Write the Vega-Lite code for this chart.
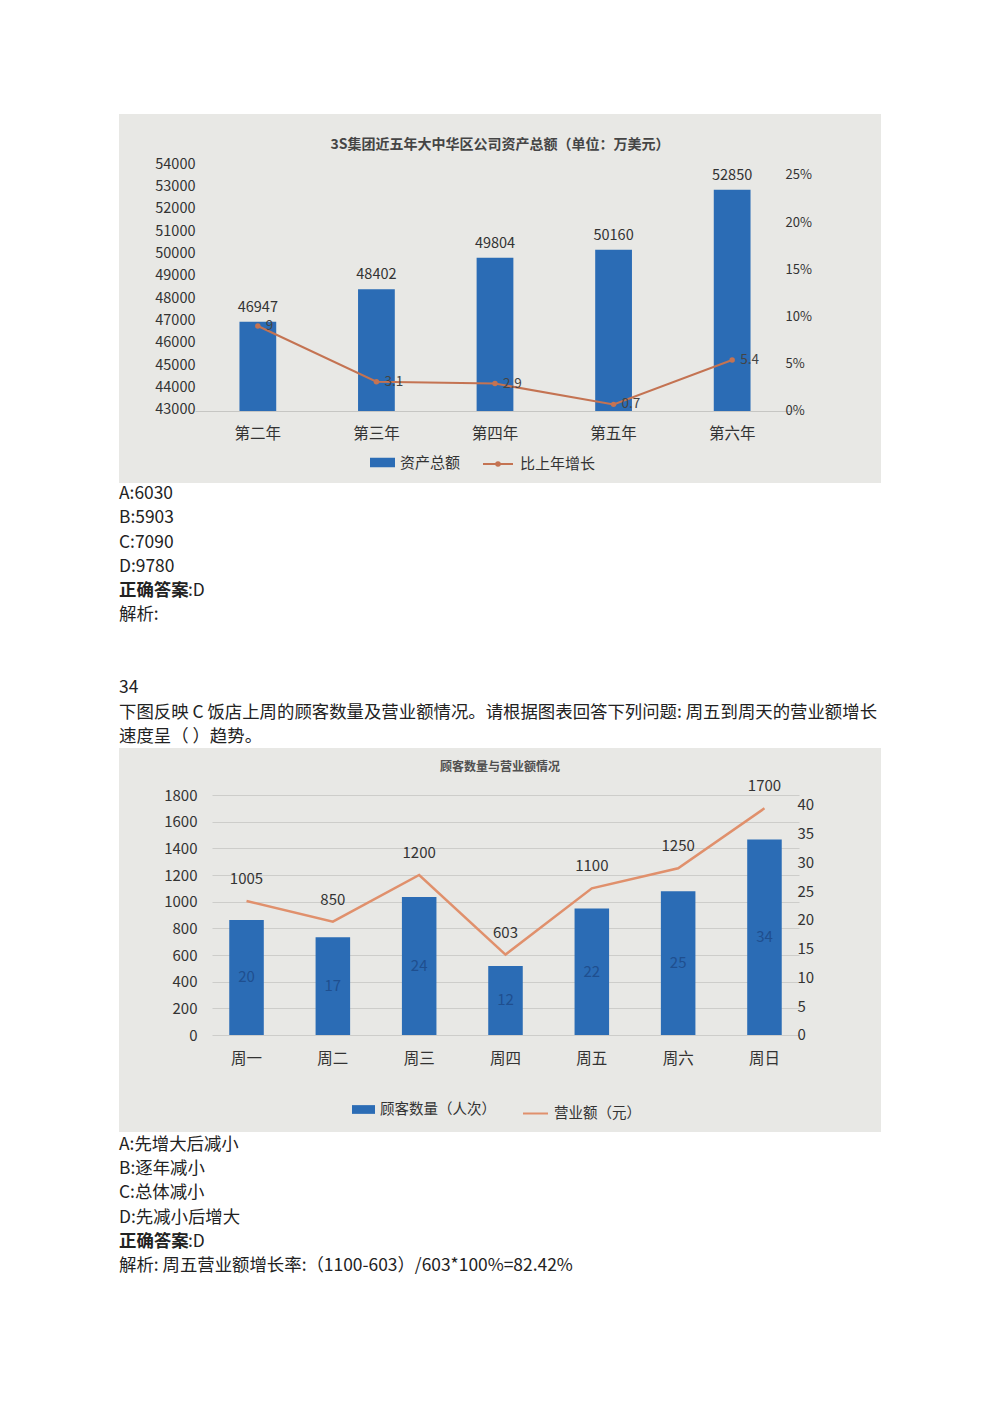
{
  "$schema": "https://vega.github.io/schema/vega-lite/v6.json",
  "background": "#ffffff",
  "padding": {"left": 119, "top": 114, "right": 0, "bottom": 0},
  "spacing": 0,
  "bounds": "flush",
  "config": {
    "font": "Noto Sans CJK SC",
    "view": {"stroke": null},
    "axis": {"labelFont": "Noto Sans CJK SC", "labelColor": "#333333", "ticks": false, "domain": false, "grid": false, "labelOverlap": false},
    "legend": {"labelFont": "Noto Sans CJK SC", "labelColor": "#333333", "padding": 0},
    "title": {"font": "Noto Sans CJK SC", "anchor": "middle", "frame": "group"}
  },
  "resolve": {
    "scale": {"x": "independent", "y": "independent", "fill": "independent", "stroke": "independent"},
    "legend": {"fill": "independent", "stroke": "independent"}
  },
  "vconcat": [
    {
      "width": 762,
      "height": 369,
      "view": {"fill": "#e8e8e5", "stroke": null},
      "title": {"text": "3S集团近五年大中华区公司资产总额（单位：万美元）", "offset": -38, "fontSize": 14, "fontWeight": 600, "color": "#454545"},
      "data": {"values": [
        {"年份": "第二年", "资产总额": 46947, "比上年增长": 9},
        {"年份": "第三年", "资产总额": 48402, "比上年增长": 3.1},
        {"年份": "第四年", "资产总额": 49804, "比上年增长": 2.9},
        {"年份": "第五年", "资产总额": 50160, "比上年增长": 0.7},
        {"年份": "第六年", "资产总额": 52850, "比上年增长": 5.4}
      ]},
      "encoding": {
        "x": {
          "field": "年份", "type": "nominal", "sort": null,
          "scale": {"range": [76, 676], "paddingInner": 0.69, "paddingOuter": 0.375},
          "axis": {"title": null, "orient": "bottom", "offset": -72, "domain": true, "domainColor": "#c6c6c3", "labelPadding": 15, "labelFontSize": 15.5, "labelAngle": 0}
        }
      },
      "layer": [
        {
          "mark": {"type": "bar"},
          "encoding": {
            "y": {
              "field": "资产总额", "type": "quantitative",
              "scale": {"domain": [39735, 56236], "nice": false, "zero": false},
              "axis": {"title": null, "orient": "left", "offset": -78, "labelPadding": 2, "labelFontSize": 14.5, "format": "d", "labelOverlap": false, "labelBound": false,
                "values": [43000, 44000, 45000, 46000, 47000, 48000, 49000, 50000, 51000, 52000, 53000, 54000]}
            },
            "y2": {"datum": 42950},
            "fill": {
              "datum": "资产总额", "type": "nominal",
              "scale": {"range": ["#2b6cb5"]},
              "legend": {"title": null, "orient": "none", "legendX": 251, "legendY": 336, "symbolType": "M-1,-0.38H1V0.38H-1Z", "symbolSize": 625, "symbolStrokeWidth": 0, "labelFontSize": 15, "labelOffset": 5}
            }
          }
        },
        {
          "mark": {"type": "text", "baseline": "bottom", "dy": -7, "fontSize": 14.5, "color": "#333333"},
          "encoding": {
            "y": {"field": "资产总额", "type": "quantitative", "scale": {"domain": [39735, 56236], "nice": false, "zero": false}, "axis": null},
            "text": {"field": "资产总额", "type": "quantitative", "format": "d"}
          }
        },
        {
          "mark": {"type": "line", "strokeWidth": 2},
          "encoding": {
            "y": {
              "field": "比上年增长", "type": "quantitative",
              "scale": {"domain": [-7.63, 31.46], "nice": false, "zero": false},
              "axis": {"title": null, "orient": "right", "offset": -96, "labelPadding": 0, "labelFontSize": 13, "labelOverlap": false, "values": [0, 5, 10, 15, 20, 25], "labelExpr": "datum.value + '%'"}
            },
            "stroke": {
              "datum": "比上年增长", "type": "nominal",
              "scale": {"range": ["#c47352"]},
              "legend": {"title": null, "orient": "none", "legendX": 363, "legendY": 334, "symbolType": "M-1,0H1M0.12,0A0.12,0.12 0 1 1 -0.12,0A0.12,0.12 0 1 1 0.12,0", "symbolSize": 900, "symbolStrokeWidth": 2, "labelFontSize": 15, "labelOffset": 6}
            }
          }
        },
        {
          "mark": {"type": "point", "filled": true, "size": 30, "color": "#c47352", "opacity": 1},
          "encoding": {"y": {"field": "比上年增长", "type": "quantitative", "scale": {"domain": [-7.63, 31.46], "nice": false, "zero": false}, "axis": null}}
        },
        {
          "mark": {"type": "text", "align": "left", "baseline": "middle", "dx": 8, "fontSize": 13.5, "color": "#444444"},
          "encoding": {
            "y": {"field": "比上年增长", "type": "quantitative", "scale": {"domain": [-7.63, 31.46], "nice": false, "zero": false}, "axis": null},
            "text": {"field": "比上年增长", "type": "quantitative", "format": "~g"}
          }
        }
      ],
      "resolve": {"scale": {"y": "independent"}}
    },
    {
      "width": 762,
      "height": 265,
      "data": {"values": [
        {"行": 0, "文本": "A:6030"},
        {"行": 1, "文本": "B:5903"},
        {"行": 2, "文本": "C:7090"},
        {"行": 3, "文本": "D:9780"},
        {"行": 4, "标签": "正确答案", "文本": ":D"},
        {"行": 5, "文本": "解析:"},
        {"行": 8, "文本": "34"},
        {"行": 9, "文本": "下图反映 C 饭店上周的顾客数量及营业额情况。请根据图表回答下列问题: 周五到周天的营业额增长"},
        {"行": 10, "文本": "速度呈（ ）趋势。"}
      ]},
      "encoding": {
        "x": {"datum": 0, "type": "quantitative", "scale": {"domain": [0, 1], "nice": false, "zero": false}, "axis": null},
        "y": {"field": "行", "type": "quantitative", "scale": {"domain": [-0.4527, 10.453], "reverse": true, "nice": false, "zero": false}, "axis": null}
      },
      "layer": [
        {
          "transform": [{"filter": "datum['标签'] == null"}],
          "mark": {"type": "text", "align": "left", "baseline": "middle", "fontSize": 17.4, "color": "#222222"},
          "encoding": {"text": {"field": "文本"}}
        },
        {
          "transform": [{"filter": "datum['标签'] != null"}],
          "mark": {"type": "text", "align": "left", "baseline": "middle", "fontSize": 17.4, "fontWeight": "bold", "color": "#222222"},
          "encoding": {"text": {"field": "标签"}}
        },
        {
          "transform": [{"filter": "datum['标签'] != null"}],
          "mark": {"type": "text", "align": "left", "baseline": "middle", "dx": 69, "fontSize": 17.4, "color": "#222222"},
          "encoding": {"text": {"field": "文本"}}
        }
      ]
    },
    {
      "width": 762,
      "height": 384,
      "view": {"fill": "#e8e8e5", "stroke": null},
      "title": {"text": "顾客数量与营业额情况", "offset": -26, "fontSize": 12, "fontWeight": 600, "color": "#505050"},
      "data": {"values": [
        {"星期": "周一", "顾客数量": 20, "营业额": 1005},
        {"星期": "周二", "顾客数量": 17, "营业额": 850},
        {"星期": "周三", "顾客数量": 24, "营业额": 1200},
        {"星期": "周四", "顾客数量": 12, "营业额": 603},
        {"星期": "周五", "顾客数量": 22, "营业额": 1100},
        {"星期": "周六", "顾客数量": 25, "营业额": 1250},
        {"星期": "周日", "顾客数量": 34, "营业额": 1700}
      ]},
      "encoding": {
        "x": {
          "field": "星期", "type": "nominal", "sort": null,
          "scale": {"range": [93, 680], "paddingInner": 0.6, "paddingOuter": 0.2},
          "axis": {"title": null, "orient": "bottom", "offset": -84, "labelPadding": 3, "labelFontSize": 15.5, "labelAngle": 0}
        }
      },
      "layer": [
        {
          "mark": {"type": "bar"},
          "encoding": {
            "y": {
              "field": "顾客数量", "type": "quantitative",
              "scale": {"domain": [-16.87, 49.91], "nice": false, "zero": false},
              "axis": {"title": null, "orient": "right", "offset": -84, "labelPadding": 0, "labelFontSize": 15, "labelOverlap": false, "values": [0, 5, 10, 15, 20, 25, 30, 35, 40]}
            },
            "y2": {"datum": 0},
            "fill": {
              "datum": "顾客数量（人次）", "type": "nominal",
              "scale": {"range": ["#2b6cb5"]},
              "legend": {"title": null, "orient": "none", "legendX": 233, "legendY": 350, "symbolType": "M-1,-0.38H1V0.38H-1Z", "symbolSize": 529, "symbolStrokeWidth": 0, "labelFontSize": 14.5, "labelOffset": 5}
            }
          }
        },
        {
          "mark": {"type": "text", "baseline": "middle", "fontSize": 15, "color": "#1f4f8f"},
          "encoding": {
            "y": {"field": "顾客数量", "type": "quantitative", "scale": {"domain": [-33.74, 99.82], "nice": false, "zero": false}, "axis": null},
            "text": {"field": "顾客数量", "type": "quantitative"}
          }
        },
        {
          "mark": {"type": "line", "strokeWidth": 2.5},
          "encoding": {
            "y": {
              "field": "营业额", "type": "quantitative",
              "scale": {"domain": [-727.5, 2152.5], "nice": false, "zero": false},
              "axis": {"title": null, "orient": "left", "offset": -80, "labelPadding": 2, "labelFontSize": 15, "format": "d", "labelOverlap": false,
                "values": [0, 200, 400, 600, 800, 1000, 1200, 1400, 1600, 1800],
                "grid": true, "gridColor": "#cdcdca", "gridWidth": 1}
            },
            "stroke": {
              "datum": "营业额（元）", "type": "nominal",
              "scale": {"range": ["#e0906c"]},
              "legend": {"title": null, "orient": "none", "legendX": 403, "legendY": 352, "symbolType": "M-1,0H1", "symbolSize": 625, "symbolStrokeWidth": 2, "labelFontSize": 14.5, "labelOffset": 5}
            }
          }
        },
        {
          "mark": {"type": "text", "baseline": "middle", "dy": -22, "fontSize": 15, "color": "#333333"},
          "encoding": {
            "y": {"field": "营业额", "type": "quantitative", "scale": {"domain": [-727.5, 2152.5], "nice": false, "zero": false}, "axis": null},
            "text": {"field": "营业额", "type": "quantitative", "format": "d"}
          }
        }
      ],
      "resolve": {"scale": {"y": "independent"}}
    },
    {
      "width": 762,
      "height": 283,
      "data": {"values": [
        {"行": 0, "文本": "A:先增大后减小"},
        {"行": 1, "文本": "B:逐年减小"},
        {"行": 2, "文本": "C:总体减小"},
        {"行": 3, "文本": "D:先减小后增大"},
        {"行": 4, "标签": "正确答案", "文本": ":D"},
        {"行": 5, "文本": "解析: 周五营业额增长率:（1100-603）/603*100%=82.42%"}
      ]},
      "encoding": {
        "x": {"datum": 0, "type": "quantitative", "scale": {"domain": [0, 1], "nice": false, "zero": false}, "axis": null},
        "y": {"field": "行", "type": "quantitative", "scale": {"domain": [-0.537, 11.157], "reverse": true, "nice": false, "zero": false}, "axis": null}
      },
      "layer": [
        {
          "transform": [{"filter": "datum['标签'] == null"}],
          "mark": {"type": "text", "align": "left", "baseline": "middle", "fontSize": 17.4, "color": "#222222"},
          "encoding": {"text": {"field": "文本"}}
        },
        {
          "transform": [{"filter": "datum['标签'] != null"}],
          "mark": {"type": "text", "align": "left", "baseline": "middle", "fontSize": 17.4, "fontWeight": "bold", "color": "#222222"},
          "encoding": {"text": {"field": "标签"}}
        },
        {
          "transform": [{"filter": "datum['标签'] != null"}],
          "mark": {"type": "text", "align": "left", "baseline": "middle", "dx": 69, "fontSize": 17.4, "color": "#222222"},
          "encoding": {"text": {"field": "文本"}}
        }
      ]
    }
  ]
}
